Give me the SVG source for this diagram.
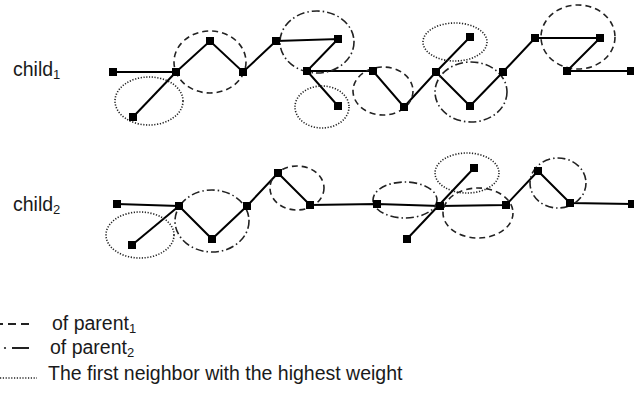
<svg xmlns="http://www.w3.org/2000/svg" width="634" height="399" viewBox="0 0 634 399">
<style>
  .edge { stroke: #000; stroke-width: 2; fill: none; }
  .node rect { fill: #000; }
  .dash { fill: none; stroke: #222; stroke-width: 1.6; stroke-dasharray: 6 4; }
  .dashdot { fill: none; stroke: #222; stroke-width: 1.6; stroke-dasharray: 8 3 1.5 3; }
  .dot { fill: none; stroke: #222; stroke-width: 1.6; stroke-dasharray: 1.2 1.6; }
  .lbl { font-family: "Liberation Sans", Arial, sans-serif; font-size: 19.5px; fill: #1a1a1a; }
  .sub { font-size: 13px; }
</style>
<rect width="634" height="399" fill="#fff"/>

<g id="labels">
  <text class="lbl" x="13" y="76">child<tspan class="sub" dy="3">1</tspan></text>
  <text class="lbl" x="13" y="211">child<tspan class="sub" dy="3">2</tspan></text>
</g>

<g id="connectors">
  <!-- child1 -->
  <line class="edge" x1="113" y1="72" x2="176" y2="72"/>
  <line class="edge" x1="133" y1="117" x2="176" y2="72"/>
  <polyline class="edge" points="176,72 210,41 243,72 276,41 338,39 307,71 338,106"/>
  <polyline class="edge" points="307,71 373,71 404,107 436,72 470,37"/>
  <polyline class="edge" points="436,72 470,106 503,72 535,38 600,38 567,71 631,71"/>
  <!-- child2 -->
  <line class="edge" x1="117" y1="204" x2="179" y2="206"/>
  <line class="edge" x1="132" y1="245" x2="179" y2="206"/>
  <polyline class="edge" points="179,206 212,239 247,206 278,173 310,205 377,204 440,206 506,205 538,171 570,203 632,204"/>
  <line class="edge" x1="407" y1="239" x2="474" y2="168"/>
</g>

<g id="groups">
  <ellipse class="dot" cx="149" cy="101" rx="34" ry="24"/>
  <ellipse class="dash" cx="210" cy="62" rx="36" ry="31"/>
  <ellipse class="dashdot" cx="317" cy="42" rx="37" ry="31"/>
  <ellipse class="dot" cx="322" cy="107" rx="27" ry="21"/>
  <ellipse class="dash" cx="383" cy="91" rx="30" ry="24"/>
  <ellipse class="dot" cx="455" cy="42" rx="32" ry="19"/>
  <ellipse class="dashdot" cx="471" cy="92" rx="36" ry="30"/>
  <ellipse class="dash" cx="578" cy="37" rx="37" ry="32"/>

  <ellipse class="dot" cx="140" cy="235" rx="34" ry="23"/>
  <ellipse class="dashdot" cx="212" cy="221" rx="37" ry="31"/>
  <ellipse class="dash" cx="297" cy="188" rx="27" ry="22"/>
  <ellipse class="dashdot" cx="405" cy="200" rx="32" ry="18"/>
  <ellipse class="dot" cx="467" cy="173" rx="32" ry="20"/>
  <ellipse class="dash" cx="478" cy="213" rx="35" ry="25"/>
  <ellipse class="dashdot" cx="558" cy="183" rx="28" ry="25"/>
</g>

<g id="nodes-child1">
  <g id="c1n1" class="node"><rect x="109" y="68" width="8" height="8"/></g>
  <g id="c1n2" class="node"><rect x="172" y="68" width="8" height="8"/></g>
  <g id="c1n3" class="node"><rect x="129" y="113" width="8" height="8"/></g>
  <g id="c1n4" class="node"><rect x="206" y="37" width="8" height="8"/></g>
  <g id="c1n5" class="node"><rect x="239" y="68" width="8" height="8"/></g>
  <g id="c1n6" class="node"><rect x="272" y="37" width="8" height="8"/></g>
  <g id="c1n7" class="node"><rect x="334" y="35" width="8" height="8"/></g>
  <g id="c1n8" class="node"><rect x="303" y="67" width="8" height="8"/></g>
  <g id="c1n9" class="node"><rect x="334" y="102" width="8" height="8"/></g>
  <g id="c1n10" class="node"><rect x="369" y="67" width="8" height="8"/></g>
  <g id="c1n11" class="node"><rect x="400" y="103" width="8" height="8"/></g>
  <g id="c1n12" class="node"><rect x="432" y="68" width="8" height="8"/></g>
  <g id="c1n13" class="node"><rect x="466" y="33" width="8" height="8"/></g>
  <g id="c1n14" class="node"><rect x="466" y="102" width="8" height="8"/></g>
  <g id="c1n15" class="node"><rect x="499" y="68" width="8" height="8"/></g>
  <g id="c1n16" class="node"><rect x="531" y="34" width="8" height="8"/></g>
  <g id="c1n17" class="node"><rect x="596" y="34" width="8" height="8"/></g>
  <g id="c1n18" class="node"><rect x="563" y="67" width="8" height="8"/></g>
  <g id="c1n19" class="node"><rect x="627" y="67" width="8" height="8"/></g>
</g>

<g id="nodes-child2">
  <g id="c2n1" class="node"><rect x="113" y="200" width="8" height="8"/></g>
  <g id="c2n2" class="node"><rect x="175" y="202" width="8" height="8"/></g>
  <g id="c2n3" class="node"><rect x="128" y="241" width="8" height="8"/></g>
  <g id="c2n4" class="node"><rect x="208" y="235" width="8" height="8"/></g>
  <g id="c2n5" class="node"><rect x="243" y="202" width="8" height="8"/></g>
  <g id="c2n6" class="node"><rect x="274" y="169" width="8" height="8"/></g>
  <g id="c2n7" class="node"><rect x="306" y="201" width="8" height="8"/></g>
  <g id="c2n8" class="node"><rect x="373" y="200" width="8" height="8"/></g>
  <g id="c2n9" class="node"><rect x="436" y="202" width="8" height="8"/></g>
  <g id="c2n10" class="node"><rect x="470" y="164" width="8" height="8"/></g>
  <g id="c2n11" class="node"><rect x="403" y="235" width="8" height="8"/></g>
  <g id="c2n12" class="node"><rect x="502" y="201" width="8" height="8"/></g>
  <g id="c2n13" class="node"><rect x="534" y="167" width="8" height="8"/></g>
  <g id="c2n14" class="node"><rect x="566" y="199" width="8" height="8"/></g>
  <g id="c2n15" class="node"><rect x="628" y="200" width="8" height="8"/></g>
</g>

<g id="legend">
  <line x1="0" y1="324" x2="32" y2="324" stroke="#222" stroke-width="2" stroke-dasharray="8 5" stroke-dashoffset="5"/>
  <text class="lbl" x="52" y="330">of parent<tspan class="sub" dy="3">1</tspan></text>
  <circle cx="5" cy="348" r="1.1" fill="#222"/>
  <line x1="12" y1="348" x2="29" y2="348" stroke="#222" stroke-width="2"/>
  <text class="lbl" x="50" y="354">of parent<tspan class="sub" dy="3">2</tspan></text>
  <line x1="0" y1="378" x2="37" y2="378" stroke="#222" stroke-width="1.6" stroke-dasharray="1.2 1.6"/>
  <text class="lbl" x="48" y="380">The first neighbor with the highest weight</text>
</g>
</svg>
